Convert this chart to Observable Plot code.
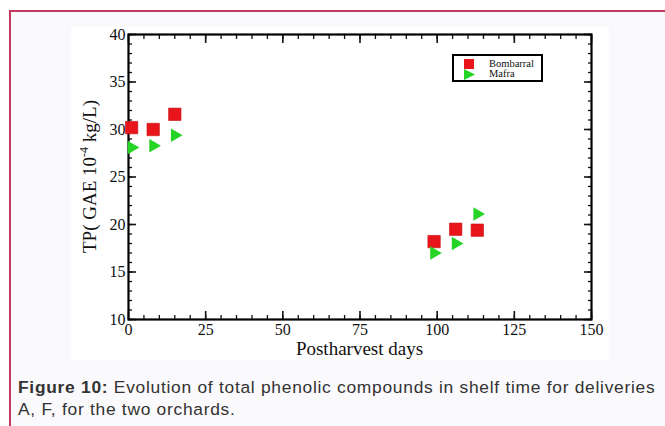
<!DOCTYPE html>
<html>
<head>
<meta charset="utf-8">
<script src="https://cdn.jsdelivr.net/npm/d3@7"></script>
<script src="https://cdn.jsdelivr.net/npm/@observablehq/plot@0.6"></script>
<style>
  html, body { margin: 0; padding: 0; background: #ffffff; width: 665px; height: 426px; overflow: hidden; }
  #outer { position: absolute; left: 9px; top: 10px; width: 660px; height: 420px;
           border-left: 2px solid #c23a5e; border-top: 2px solid #c23a5e; background: #faf9fb; }
  #panel { position: absolute; left: 71px; top: 27px; width: 538px; height: 333px; background: #ffffff; }
  #legend { position: absolute; left: 452px; top: 54px; width: 87px; height: 24px;
            border: 2px solid #000; background: #fff; font-family: "Liberation Serif", serif; font-size: 10.5px; }
  #legend .row { position: absolute; left: 0; height: 10px; line-height: 10px; }
  #legend .lbl { position: absolute; left: 35px; top: 0; white-space: nowrap; color: #111; }
  #legend svg { position: absolute; left: 8px; top: 0; }
  #caption { position: absolute; left: 18px; top: 376px; width: 647px; white-space: nowrap;
             font-family: "Liberation Sans", Arial, sans-serif; font-size: 17.4px; line-height: 22px; color: #333; }
  #caption .line { display: inline-block; }
</style>
</head>
<body>
<div id="outer"></div>
<div id="panel"></div>
<div id="legend"></div>
<div id="caption"></div>
<script>
// ---- data ----
const days = [1, 8, 15, 99, 106, 113];
const bombarral = [30.2, 30.0, 31.6, 18.2, 19.5, 19.4];
const mafra = [28.1, 28.3, 29.4, 17.0, 18.0, 21.1];
const seriesNames = ["Bombarral", "Mafra"];
const seriesColors = ["#e8161b", "#26d426"];
const xTicks = [0, 25, 50, 75, 100, 125, 150];
const yTicks = [10, 15, 20, 25, 30, 35, 40];
const xLabel = "Postharvest days";
const yLabelParts = ["TP( GAE 10", "-4", " kg/L)"];
const captionBold = "Figure 10:";
const captionLine1 = " Evolution of total phenolic compounds in shelf time for deliveries";
const captionLine2 = "A, F, for the two orchards.";

const rows = [];
days.forEach((d, i) => {
  rows.push({day: d, tp: bombarral[i], s: seriesNames[0]});
  rows.push({day: d, tp: mafra[i], s: seriesNames[1]});
});
const rowsB = rows.filter(r => r.s === seriesNames[0]);
const rowsM = rows.filter(r => r.s === seriesNames[1]);

const xMinor = d3.range(0, 151, 5);
const yMinor = d3.range(10, 41, 1);

const plot = Plot.plot({
  width: 538,
  height: 333,
  marginLeft: 57,
  marginRight: 18,
  marginTop: 7,
  marginBottom: 41,
  x: {domain: [0, 150]},
  y: {domain: [10, 40]},
  style: {fontFamily: "Liberation Serif, serif", fontSize: "16px", color: "#111", background: "transparent"},
  marks: [
    // minor ticks (inward) on all four sides
    Plot.axisX(xMinor, {anchor: "bottom", tickSize: -4, text: null, label: null, strokeWidth: 1.3}),
    Plot.axisX(xMinor, {anchor: "top", tickSize: -4, text: null, label: null, strokeWidth: 1.3}),
    Plot.axisY(yMinor, {anchor: "left", tickSize: -4, text: null, label: null, strokeWidth: 1.3}),
    Plot.axisY(yMinor, {anchor: "right", tickSize: -4, text: null, label: null, strokeWidth: 1.3}),
    // major ticks (inward)
    Plot.axisX(xTicks, {anchor: "bottom", tickSize: -8, text: null, label: null, strokeWidth: 1.6}),
    Plot.axisX(xTicks, {anchor: "top", tickSize: -8, text: null, label: null, strokeWidth: 1.6}),
    Plot.axisY(yTicks, {anchor: "left", tickSize: -8, text: null, label: null, strokeWidth: 1.6}),
    Plot.axisY(yTicks, {anchor: "right", tickSize: -8, text: null, label: null, strokeWidth: 1.6}),
    // tick labels
    Plot.axisX(xTicks, {anchor: "bottom", tickSize: 0, tickPadding: 4, label: null, fontSize: 16}),
    Plot.axisY(yTicks, {anchor: "left", tickSize: 0, tickPadding: 3, label: null, fontSize: 16}),
    Plot.frame({stroke: "#000", strokeWidth: 2.2}),
    Plot.dot(rowsB, {x: "day", y: "tp", symbol: "square", r: 7, fill: seriesColors[0], stroke: "#c40f12", strokeWidth: 0.6}),
    Plot.dot(rowsM, {x: "day", y: "tp", symbol: "triangle", r: 5, rotate: 90, fill: seriesColors[1]})
  ]
});
plot.style.position = "absolute";
plot.style.left = "71px";
plot.style.top = "27px";
document.body.appendChild(plot);

// axis titles
const svg = d3.select(plot);
svg.append("text")
  .attr("x", 57 + (538 - 57 - 18) / 2)
  .attr("y", 328)
  .attr("text-anchor", "middle")
  .attr("font-family", "Liberation Serif, serif")
  .attr("font-size", 19)
  .attr("fill", "#111")
  .text(xLabel);
const yl = svg.append("text")
  .attr("transform", `translate(25,${7 + (333 - 7 - 41) / 2}) rotate(-90)`)
  .attr("text-anchor", "middle")
  .attr("font-family", "Liberation Serif, serif")
  .attr("font-size", 19)
  .attr("fill", "#111");
yl.append("tspan").text(yLabelParts[0]);
yl.append("tspan").attr("dy", -8).attr("font-size", 12).text(yLabelParts[1]);
yl.append("tspan").attr("dy", 8).text(yLabelParts[2]);

// legend
const leg = d3.select("#legend");
seriesNames.forEach((name, i) => {
  const row = leg.append("div").attr("class", "row").style("top", (3 + i * 10) + "px").style("width", "87px");
  const s = row.append("svg").attr("width", 14).attr("height", 11);
  if (i === 0) {
    s.append("rect").attr("x", 2).attr("y", 0).attr("width", 10).attr("height", 10).attr("fill", seriesColors[0]);
  } else {
    s.append("path").attr("d", "M2,0 L13,5.5 L2,11 Z").attr("fill", seriesColors[1]);
  }
  row.append("span").attr("class", "lbl").text(name);
});

// caption: two lines; first line spread to the reference's width
const cap = d3.select("#caption");
const l1 = cap.append("span").attr("class", "line");
l1.append("b").text(captionBold);
l1.append("span").text(captionLine1);
cap.append("br");
cap.append("span").attr("class", "line").text(captionLine2);
const w = l1.node().getBoundingClientRect().width;
const target = 637;
const nChars = (captionBold + captionLine1).length;
const ls = Math.max(0, Math.min(1.2, (target - w) / nChars));
cap.style("letter-spacing", ls.toFixed(2) + "px");
</script>
</body>
</html>
